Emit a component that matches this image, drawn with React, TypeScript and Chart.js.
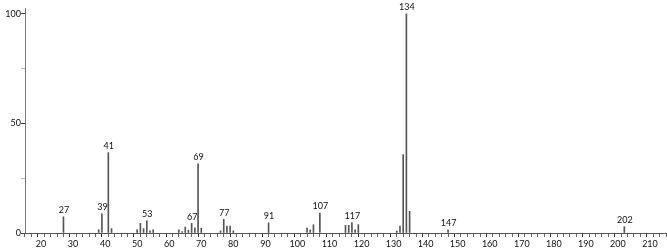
import React, { useEffect, useRef } from "react";
import { Chart, registerables } from "chart.js";

Chart.register(...registerables);

const masses = [27, 38, 39, 41, 42, 50, 51, 52, 53, 54, 55, 63, 64, 65, 66, 67, 68, 69, 70, 76, 77, 78, 79, 80, 91, 103, 104, 105, 107, 115, 116, 117, 118, 119, 131, 132, 133, 134, 135, 147, 202];
const intensities = [7.4, 1.5, 8.8, 36.7, 2.0, 1.5, 4.4, 2.0, 5.6, 1.0, 1.5, 1.5, 0.7, 2.7, 1.3, 4.4, 2.4, 31.6, 2.2, 1.0, 6.2, 3.2, 3.2, 1.0, 4.6, 2.3, 1.4, 3.8, 9.1, 3.5, 3.5, 4.7, 1.5, 3.8, 0.9, 3.2, 35.8, 100, 9.9, 1.4, 2.9];
const labeledMasses = [27, 39, 41, 53, 67, 69, 77, 91, 107, 117, 134, 147, 202];
const yTickValues = [0, 25, 50, 75, 100];
const yTickLabels = ["0", "", "50", "", "100"];
const xMin = 16;
const xMax = 214;
const yMax = 102.7;

const FONT = "Lato, 'DejaVu Sans', sans-serif";

const peakLabelPlugin = {
  id: "peakLabels",
  afterDatasetsDraw(chart: any) {
    const ctx = chart.ctx;
    const xs = chart.scales.x;
    const ys = chart.scales.y;
    ctx.save();
    ctx.fillStyle = "#111";
    ctx.font = `9px ${FONT}`;
    ctx.textAlign = "center";
    ctx.textBaseline = "bottom";
    labeledMasses.forEach((m) => {
      const i = masses.indexOf(m);
      if (i < 0) return;
      const px = xs.getPixelForValue(m);
      const py = ys.getPixelForValue(intensities[i]);
      ctx.fillText(String(m), px + 0.5, py - 2);
    });
    ctx.restore();
  },
};

export default function App() {
  const ref = useRef<HTMLCanvasElement | null>(null);
  useEffect(() => {
    if (!ref.current) return;
    const chart = new Chart(ref.current, {
      type: "bar",
      data: {
        datasets: [
          {
            data: masses.map((m, i) => ({ x: m, y: intensities[i] })),
            backgroundColor: "#555",
            borderWidth: 0,
            barThickness: 1,
          } as any,
        ],
      },
      options: {
        animation: false,
        responsive: false,
        maintainAspectRatio: false,
        layout: { padding: { top: 8, right: 1, left: 0, bottom: 0 } },
        plugins: {
          legend: { display: false },
          tooltip: { enabled: false },
        },
        scales: {
          x: {
            type: "linear",
            min: xMin,
            max: xMax,
            afterBuildTicks: (scale: any) => {
              const t = [];
              for (let v = xMin; v <= xMax; v += 2) t.push({ value: v });
              scale.ticks = t;
            },
            afterFit: (scale: any) => {
              scale.height = 16;
            },
            ticks: {
              autoSkip: false,
              maxRotation: 0,
              padding: 2,
              color: "#111",
              font: { family: FONT, size: 9 },
              callback: (v: any) => (Number(v) % 10 === 0 ? String(v) : ""),
            },
            grid: {
              drawOnChartArea: false,
              drawTicks: true,
              tickLength: 4,
              tickColor: (c: any) => (c.tick && c.tick.value % 10 === 0 ? "#333" : "#666"),
            },
            border: { color: "#555", width: 1 },
          },
          y: {
            min: 0,
            max: yMax,
            afterBuildTicks: (scale: any) => {
              scale.ticks = yTickValues.map((v) => ({ value: v }));
            },
            afterFit: (scale: any) => {
              scale.width = 25;
            },
            ticks: {
              autoSkip: false,
              padding: 0,
              color: "#111",
              font: { family: FONT, size: 9 },
              callback: (v: any) => {
                const i = yTickValues.indexOf(Number(v));
                return i >= 0 ? yTickLabels[i] : "";
              },
            },
            grid: {
              drawOnChartArea: false,
              drawTicks: true,
              tickLength: 4,
              tickColor: (c: any) => (c.tick && c.tick.value % 50 === 0 ? "#444" : "#bbb"),
            },
            border: { color: "#777", width: 1 },
          },
        },
      },
      plugins: [peakLabelPlugin],
    });
    return () => chart.destroy();
  }, []);
  return (
    <div style={{ position: "fixed", left: 0, top: 0, width: 667, height: 249, background: "#fff" }}>
      <canvas ref={ref} width={667} height={249} style={{ display: "block", width: 667, height: 249 }} />
    </div>
  );
}
